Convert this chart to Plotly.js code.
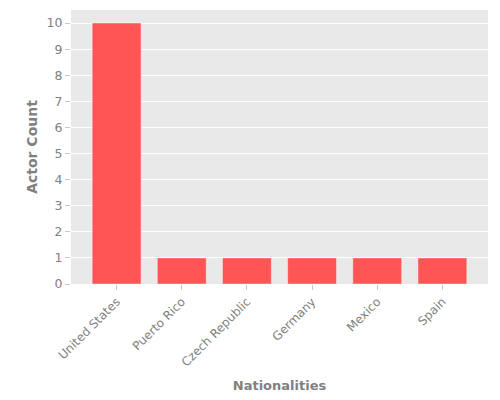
<!DOCTYPE html>
<html>
<head>
<meta charset="utf-8">
<script src="https://cdn.plot.ly/plotly-3.0.1.min.js"></script>
<style>html,body{margin:0;padding:0;background:#fff;}#chart{width:500px;height:400px;}</style>
</head>
<body>
<div id="chart"></div>
<script>
const nationalities = ["United States", "Puerto Rico", "Czech Republic", "Germany", "Mexico", "Spain"];
const actorCounts = [10, 1, 1, 1, 1, 1];
const yTicks = [0, 1, 2, 3, 4, 5, 6, 7, 8, 9, 10];

const trace = {
  type: 'bar',
  x: nationalities,
  y: actorCounts,
  width: 0.75,
  marker: {color: '#FF5555', line: {color: 'rgba(255,255,255,0.5)', width: 0.8}},
  hoverinfo: 'x+y'
};

const layout = {
  width: 500, height: 400,
  margin: {l: 71, r: 12, t: 10, b: 116},
  paper_bgcolor: '#ffffff',
  plot_bgcolor: '#E9E9E9',
  font: {family: 'DejaVu Sans', color: '#808080', size: 12},
  showlegend: false,
  xaxis: {
    type: 'category',
    range: [-0.7, 5.7],
    tickangle: -45,
    ticks: 'outside', ticklen: 5, tickcolor: '#c8c8c8',
    showgrid: false, zeroline: false,
    tickfont: {size: 12, color: '#808080'},
    title: {text: '<b>Nationalities</b>', font: {size: 13, color: '#808080'}, standoff: 12}
  },
  yaxis: {
    range: [0, 10.5],
    tickvals: yTicks,
    ticks: 'outside', ticklen: 5, tickcolor: '#c8c8c8',
    showgrid: true, gridcolor: '#ffffff', gridwidth: 1,
    zeroline: false,
    tickfont: {size: 12.5, color: '#808080'},
    title: {text: '<b>Actor Count</b>', font: {size: 14, color: '#808080'}, standoff: 5}
  }
};

Plotly.newPlot('chart', [trace], layout, {displayModeBar: false, staticPlot: true});
</script>
</body>
</html>
